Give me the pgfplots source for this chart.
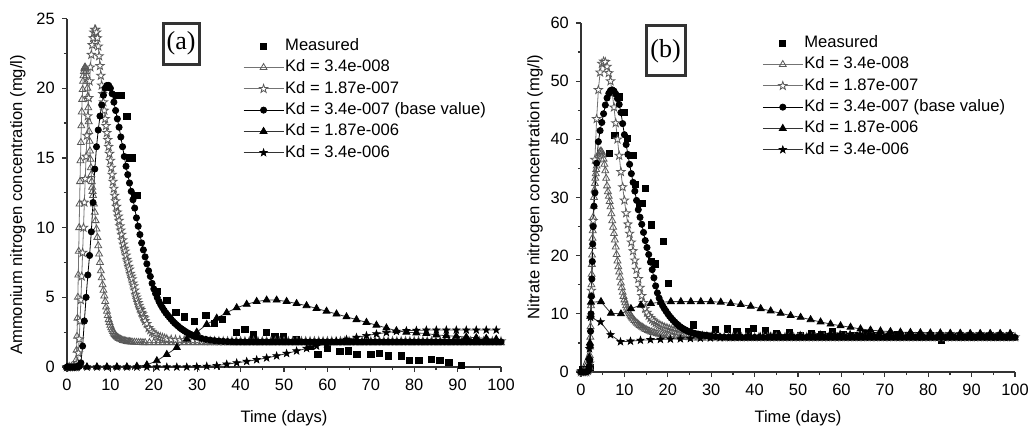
\documentclass[border=0pt]{standalone}
\usepackage{pgfplots}
\pgfplotsset{compat=1.18}
\usepackage{fontspec}
\setmainfont{Liberation Sans}
\newfontfamily\seriffont{Liberation Serif}
\usetikzlibrary{plotmarks}

% five-pointed star outline, filled with the current fill colour
\pgfdeclareplotmark{fivestar}{%
  \pgfpathmoveto{\pgfpointpolar{90}{1.15\pgfplotmarksize}}%
  \pgfpathlineto{\pgfpointpolar{126}{0.46\pgfplotmarksize}}%
  \pgfpathlineto{\pgfpointpolar{162}{1.15\pgfplotmarksize}}%
  \pgfpathlineto{\pgfpointpolar{198}{0.46\pgfplotmarksize}}%
  \pgfpathlineto{\pgfpointpolar{234}{1.15\pgfplotmarksize}}%
  \pgfpathlineto{\pgfpointpolar{270}{0.46\pgfplotmarksize}}%
  \pgfpathlineto{\pgfpointpolar{306}{1.15\pgfplotmarksize}}%
  \pgfpathlineto{\pgfpointpolar{342}{0.46\pgfplotmarksize}}%
  \pgfpathlineto{\pgfpointpolar{18}{1.15\pgfplotmarksize}}%
  \pgfpathlineto{\pgfpointpolar{54}{0.46\pgfplotmarksize}}%
  \pgfpathclose
  \pgfusepathqfillstroke
}

\pgfplotsset{
  kdaxis/.style={
    scale only axis, width=217pt,
    axis lines*=left,
    axis line style={black!80, line width=0.6pt},
    tick style={black!80, line width=0.6pt},
    tick align=outside,
    major tick length=2.6pt, minor tick length=1.6pt,
    xmin=0, xmax=100, xtick={0,10,...,100}, minor x tick num=1,
    clip=false,
    /pgf/number format/assume math mode=true,
    tick label style={font=\fontsize{8.2}{9.8}\selectfont},
    label style={font=\fontsize{8.3}{10}\selectfont},
    xlabel={Time (days)},
    legend cell align=left,
    legend image code/.code={\draw[mark repeat=2,mark phase=2,##1] plot coordinates {(0pt,0pt) (10pt,0pt) (20pt,0pt)};},
    legend style={draw=none, fill=none, inner sep=0pt, row sep=1.45pt,
      font=\fontsize{8.3}{10}\selectfont,
      nodes={inner sep=0.6pt, text height=6.2pt, text depth=1.8pt}},
  },
  meas/.style={only marks, mark=square*, mark size=1.55pt, black},
  kdA/.style={black!55, line width=0.4pt, mark=triangle, mark size=2.0pt,
    mark options={draw=black!65, fill=white, line width=0.4pt}},
  kdB/.style={black!55, line width=0.4pt, mark=fivestar, mark size=1.9pt,
    mark options={draw=black!65, fill=white, line width=0.4pt}},
  kdC/.style={black, line width=0.4pt, mark=*, mark size=1.55pt,
    mark options={fill=black}},
  kdD/.style={black!80, line width=0.4pt, mark=triangle*, mark size=2.0pt,
    mark options={draw=black, fill=black}},
  kdE/.style={black!80, line width=0.4pt, mark=fivestar, mark size=1.7pt,
    mark options={draw=black, fill=black, line width=0.3pt}},
}

\begin{document}
\begin{tikzpicture}
\useasboundingbox (0,0) rectangle (518pt,214pt);

% ---------------- (a) ammonium nitrogen ----------------
\begin{axis}[kdaxis,
  at={(33.5pt,30.5pt)}, anchor=south west, height=174.25pt,
  ymin=0, ymax=25, ytick={0,5,...,25}, minor y tick num=1,
  ylabel={Ammonium nitrogen concentration (mg/l)},
  ylabel style={at={(axis description cs:-0.113,0.465)}, anchor=center},
  xlabel style={at={(axis description cs:0.5,-0.146)}, anchor=center},
  legend style={at={(axis description cs:0.405,0.948)}, anchor=north west},
]
\addplot[meas] coordinates {
 (0.3,0) (1.3,0) (2.3,0.1)
 (11.5,19.5) (12.4,19.5) (13.8,18.0) (14.4,15.0) (15.1,15.0) (15.6,12.3) (16.2,12.3)
 (20.7,5.4) (23.0,4.8) (25.1,3.9) (27.1,3.6) (29.4,3.3) (32.0,3.7) (34.0,3.1) (35.8,3.4)
 (39.1,2.5) (41.0,2.7) (42.9,2.3) (46.0,2.5) (47.9,2.2) (49.8,2.2) (52.9,2.0) (56.0,1.45)
 (57.8,0.9) (60.0,1.35) (62.9,1.1) (64.8,1.15) (66.8,0.9) (70.0,0.9) (71.9,1.0) (74.0,0.8)
 (77.0,0.8) (78.9,0.45) (81.1,0.45) (83.9,0.55) (85.9,0.45) (88.0,0.35) (90.9,0.1)
};
\addlegendentry{Measured}

\addplot[kdA] coordinates {
 (0,0) (0.5,0) (1,0) (1.5,0) (2.0,0.1)
 (2.1,0.5) (2.2,1.2) (2.3,2.2) (2.4,3.5) (2.5,5.0) (2.6,6.6) (2.7,8.3) (2.8,10.0)
 (2.9,11.7) (3.0,13.3) (3.1,14.8) (3.2,16.1) (3.3,17.3) (3.4,18.3) (3.5,19.2) (3.6,19.9)
 (3.7,20.5) (3.8,20.9) (3.9,21.2) (4.0,21.4) (4.1,21.5) (4.2,21.5) (4.3,21.4) (4.4,21.2)
 (4.5,20.9) (4.6,20.5) (4.7,20.0) (4.8,19.4) (4.9,18.6) (5.0,17.6) (5.1,16.9) (5.2,16.2)
 (5.3,15.5) (5.4,14.9) (5.5,14.3) (5.6,13.8) (5.7,13.3) (5.8,12.9) (5.9,12.6) (6.0,12.3)
 (6.2,11.7) (6.4,11.1) (6.6,10.5) (6.8,9.9) (7.0,9.3) (7.2,8.7) (7.4,8.1) (7.6,7.5)
 (7.8,6.9) (8.0,6.4) (8.2,5.9) (8.4,5.5) (8.6,5.1) (8.8,4.7) (9.0,4.3) (9.2,4.0)
 (9.4,3.7) (9.6,3.4) (9.8,3.2) (10.0,3.0) (10.2,2.82) (10.4,2.67) (10.6,2.54) (10.8,2.43)
 (11.0,2.34) (11.2,2.26) (11.4,2.19) (11.6,2.13) (11.8,2.08) (12.0,2.04) (12.3,1.99)
 (12.6,1.95) (12.9,1.91) (13.2,1.88) (13.5,1.86) (13.8,1.84) (14.1,1.82) (14.4,1.81)
 (14.7,1.8) (15.0,1.79) (15.5,1.78) (16.0,1.77) (16.5,1.76) (17.0,1.76) (17.5,1.75)
 (18.0,1.75) (19,1.75) (20,1.75)
 (21,1.75) (22,1.75) (23,1.75) (24,1.75) (25,1.75) (26,1.75) (27,1.75) (28,1.75) (29,1.75) (30,1.75)
 (31,1.75) (32,1.75) (33,1.75) (34,1.75) (35,1.75) (36,1.75) (37,1.75) (38,1.75) (39,1.75) (40,1.75)
 (41,1.75) (42,1.75) (43,1.75) (44,1.75) (45,1.75) (46,1.75) (47,1.75) (48,1.75) (49,1.75) (50,1.75)
 (51,1.75) (52,1.75) (53,1.75) (54,1.75) (55,1.75) (56,1.75) (57,1.75) (58,1.75) (59,1.75) (60,1.75)
 (61,1.75) (62,1.75) (63,1.75) (64,1.75) (65,1.75) (66,1.75) (67,1.75) (68,1.75) (69,1.75) (70,1.75)
 (71,1.75) (72,1.75) (73,1.75) (74,1.75) (75,1.75) (76,1.75) (77,1.75) (78,1.75) (79,1.75) (80,1.75)
 (81,1.75) (82,1.75) (83,1.75) (84,1.75) (85,1.75) (86,1.75) (87,1.75) (88,1.75) (89,1.75) (90,1.75)
 (91,1.75) (92,1.75) (93,1.75) (94,1.75) (95,1.75) (96,1.75) (97,1.75) (98,1.75) (99,1.75) (100,1.75)
};
\addlegendentry{Kd = 3.4e-008}

\addplot[kdB] coordinates {
 (0,0) (0.5,0) (1,0) (1.5,0) (2,0)
 (2.4,0.3) (2.6,1.0) (2.8,2.0) (3.0,3.3) (3.2,4.8) (3.4,6.5) (3.6,8.2) (3.8,10.0)
 (4.0,11.8) (4.2,13.5) (4.4,15.1) (4.6,16.6) (4.8,18.0) (5.0,19.3) (5.2,20.5) (5.4,21.5)
 (5.6,22.4) (5.8,23.1) (6.0,23.6) (6.2,24.0) (6.4,24.2) (6.6,24.2) (6.8,24.0) (7.0,23.6)
 (7.2,23.0) (7.4,22.3) (7.6,21.6) (7.8,20.9) (8.0,20.2) (8.2,19.6) (8.4,19.0) (8.6,18.4)
 (8.8,17.8) (9.0,17.3) (9.2,16.8) (9.4,16.3) (9.6,15.8) (9.8,15.3) (10.0,14.8) (10.2,14.3)
 (10.4,13.8) (10.6,13.3) (10.8,12.8) (11.0,12.3) (11.2,11.9) (11.4,11.5) (11.6,11.1) (11.8,10.8)
 (12.0,10.5) (12.2,10.1) (12.4,9.8) (12.6,9.5) (12.8,9.1) (13.0,8.8) (13.2,8.5) (13.4,8.3)
 (13.6,8.0) (13.8,7.7) (14.0,7.5) (14.2,7.2) (14.4,7.0) (14.6,6.7) (14.8,6.5) (15.0,6.3)
 (15.2,6.0) (15.4,5.8) (15.6,5.5) (15.8,5.2) (16.0,5.0) (16.2,4.8) (16.4,4.6) (16.6,4.4)
 (16.8,4.2) (17.0,4.1) (17.2,3.9) (17.4,3.8) (17.6,3.6) (17.8,3.5) (18.0,3.3) (18.4,3.1)
 (18.8,2.8) (19.2,2.65) (19.6,2.5) (20.0,2.4) (20.5,2.3) (21.0,2.2) (21.5,2.15) (22.0,2.1)
 (22.5,2.05) (23.0,2.0) (24,1.97) (25,1.95) (26,1.93) (27,1.92) (28,1.91) (29,1.9) (30,1.9)
 (31,1.88) (32,1.87) (33,1.86) (34,1.86) (35,1.85) (36,1.85) (37,1.85) (38,1.85) (39,1.85) (40,1.85)
 (41,1.85) (42,1.85) (43,1.85) (44,1.85) (45,1.85) (46,1.85) (47,1.85) (48,1.85) (49,1.85) (50,1.85)
 (51,1.85) (52,1.85) (53,1.85) (54,1.85) (55,1.85) (56,1.85) (57,1.85) (58,1.85) (59,1.85) (60,1.85)
 (61,1.85) (62,1.85) (63,1.85) (64,1.85) (65,1.85) (66,1.85) (67,1.85) (68,1.85) (69,1.85) (70,1.85)
 (71,1.85) (72,1.85) (73,1.85) (74,1.85) (75,1.85) (76,1.85) (77,1.85) (78,1.85) (79,1.85) (80,1.85)
 (81,1.85) (82,1.85) (83,1.85) (84,1.85) (85,1.85) (86,1.85) (87,1.85) (88,1.85) (89,1.85) (90,1.85)
 (91,1.85) (92,1.85) (93,1.85) (94,1.85) (95,1.85) (96,1.85) (97,1.85) (98,1.85) (99,1.85) (100,1.85)
};
\addlegendentry{Kd = 1.87e-007}

\addplot[kdC] coordinates {
 (0,0) (0.4,0) (0.8,0) (1.2,0) (1.6,0) (2.0,0) (2.4,0) (2.8,0.05)
 (3.2,0.3) (3.6,1.5) (4.0,3.3) (4.4,5.0) (4.8,6.6) (5.2,8.0) (5.6,9.7) (6.0,11.8)
 (6.4,14.2) (6.8,15.8) (7.2,17.0) (7.6,18.0) (8.0,18.8) (8.4,19.5) (8.8,20.0) (9.2,20.2)
 (9.6,20.2) (10.0,20.0) (10.4,19.6) (10.8,19.0) (11.2,18.4) (11.6,17.8) (12.0,17.2) (12.4,16.5)
 (12.8,15.8) (13.2,15.1) (13.6,14.4) (14.0,13.8) (14.4,13.2) (14.8,12.6) (15.2,12.0) (15.6,11.4)
 (16.0,10.7) (16.4,10.1) (16.8,9.5) (17.2,8.9) (17.6,8.4) (18.0,7.9) (18.4,7.4) (18.8,6.9)
 (19.2,6.5) (19.6,6.0) (20.0,5.6) (20.4,5.27) (20.8,4.97) (21.2,4.7) (21.6,4.46) (22.0,4.25)
 (22.4,4.05) (22.8,3.87) (23.2,3.72) (23.6,3.57) (24.0,3.42) (24.4,3.28) (24.8,3.15) (25.2,3.04)
 (25.6,2.93) (26.0,2.82) (26.4,2.73) (26.8,2.64) (27.2,2.56) (27.6,2.48) (28.0,2.41) (28.4,2.35)
 (28.8,2.29) (29.2,2.24) (29.6,2.19) (30.0,2.15) (31,2.05) (32,1.98)
 (33,1.93) (34,1.89) (35,1.86) (36,1.84) (37,1.82) (38,1.81) (39,1.8) (40,1.8)
 (41,1.8) (42,1.8) (43,1.8) (44,1.8) (45,1.8) (46,1.8) (47,1.8) (48,1.8) (49,1.8) (50,1.8)
 (51,1.8) (52,1.8) (53,1.8) (54,1.8) (55,1.8) (56,1.8) (57,1.8) (58,1.8) (59,1.8) (60,1.8)
 (61,1.8) (62,1.8) (63,1.8) (64,1.8) (65,1.8) (66,1.8) (67,1.8) (68,1.8) (69,1.8) (70,1.8)
 (71,1.8) (72,1.8) (73,1.8) (74,1.8) (75,1.8) (76,1.8) (77,1.8) (78,1.8) (79,1.8) (80,1.8)
 (81,1.8) (82,1.8) (83,1.8) (84,1.8) (85,1.8) (86,1.8) (87,1.8) (88,1.8) (89,1.8) (90,1.8)
 (91,1.8) (92,1.8) (93,1.8) (94,1.8) (95,1.8) (96,1.8) (97,1.8) (98,1.8) (99,1.8) (100,1.8)
};
\addlegendentry{Kd = 3.4e-007 (base value)}

\addplot[kdD] coordinates {
 (0,0) (2.3,0) (4.6,0) (6.9,0) (9.2,0) (11.5,0) (13.8,0) (16.1,0.05) (18.4,0.15)
 (20.7,0.45) (23.0,0.9) (25.3,1.4) (27.6,2.0) (29.9,2.5) (32.2,3.05) (34.5,3.5) (36.8,3.9)
 (39.1,4.25) (41.4,4.5) (43.7,4.7) (46.0,4.8) (48.3,4.8) (50.6,4.7) (52.9,4.55) (55.2,4.4)
 (57.5,4.2) (59.8,4.0) (62.1,3.8) (64.4,3.6) (66.7,3.4) (69.0,3.2) (71.3,3.0) (73.6,2.8)
 (75.9,2.6) (78.2,2.5) (80.5,2.45) (82.8,2.4) (85.1,2.3) (87.4,2.25) (89.7,2.2) (92.0,2.15)
 (94.3,2.1) (96.6,2.05) (98.9,2.0)
};
\addlegendentry{Kd = 1.87e-006}

\addplot[kdE] coordinates {
 (0,0) (2.3,0) (4.6,0) (6.9,0) (9.2,0) (11.5,0) (13.8,0) (16.1,0) (18.4,0) (20.7,0)
 (23.0,0) (25.3,0) (27.6,0) (29.9,0.02) (32.2,0.05) (34.5,0.1) (36.8,0.2) (39.1,0.3)
 (41.4,0.4) (43.7,0.52) (46.0,0.65) (48.3,0.8) (50.6,0.97) (52.9,1.15) (55.2,1.33) (57.5,1.5)
 (59.8,1.67) (62.1,1.83) (64.4,1.98) (66.7,2.12) (69.0,2.25) (71.3,2.37) (73.6,2.47) (75.9,2.55)
 (78.2,2.6) (80.5,2.63) (82.8,2.65) (85.1,2.65) (87.4,2.65) (89.7,2.65) (92.0,2.65) (94.3,2.65)
 (96.6,2.65) (98.9,2.65)
};
\addlegendentry{Kd = 3.4e-006}

\node[draw=black!80, line width=1.5pt, minimum width=18pt, minimum height=20.5pt,
  inner sep=0pt, font=\seriffont\fontsize{13}{13}\selectfont]
  at (axis description cs:0.263,0.928) {(a)};
\end{axis}

% ---------------- (b) nitrate nitrogen ----------------
\begin{axis}[kdaxis,
  at={(290.5pt,28pt)}, anchor=south west, height=174.5pt,
  ymin=0, ymax=60, ytick={0,10,...,60}, minor y tick num=1,
  ylabel={Nitrate nitrogen concentration (mg/l)},
  ylabel style={at={(axis description cs:-0.106,0.53)}, anchor=center},
  xlabel style={at={(axis description cs:0.5,-0.132)}, anchor=center},
  legend style={at={(axis description cs:0.417,0.9695)}, anchor=north west},
]
\addplot[meas] coordinates {
 (0.3,0.5) (1.3,0.5) (2.2,0.8)
 (6.5,37.6) (7.8,40.7) (8.9,47.3) (9.9,44.6) (10.6,40.1) (11.3,37.2) (12.0,37.2)
 (12.6,32.3) (13.4,29.0) (14.1,29.0) (14.9,31.5) (16.3,25.3) (16.3,19.0) (17.1,18.6)
 (19.0,22.4) (20.1,15.3) (25.9,8.1) (31.0,7.3) (33.7,7.4) (35.9,7.0) (38.5,6.9)
 (39.7,7.5) (42.4,7.2) (45.0,6.6) (48.0,6.8) (50.5,6.3) (53.0,6.6) (55.5,6.4)
 (58.0,6.9) (60.5,6.5) (63.0,6.2) (65.5,6.6) (68.0,6.3) (70.5,6.1) (73.0,6.4)
 (75.5,6.2) (78.0,6.0) (80.5,6.3) (83.0,5.4) (85.5,6.1) (88.0,6.0) (90.5,5.9)
 (93.0,6.1) (95.5,5.9) (98.0,6.0)
};
\addlegendentry{Measured}

\addplot[kdA] coordinates {
 (0,0) (0.5,0) (1,0) (1.5,0.1) (1.8,0.3) (1.95,0.8)
 (2.0,1.5) (2.05,2.8) (2.1,4.3) (2.15,6.0) (2.2,7.8) (2.25,9.6) (2.3,11.4) (2.35,13.2)
 (2.4,15.0) (2.45,16.8) (2.5,18.5) (2.55,20.1) (2.6,21.6) (2.65,23.0) (2.7,24.3) (2.75,25.5)
 (2.8,26.6) (2.9,28.5) (3.0,30.0) (3.1,31.3) (3.2,32.4) (3.3,33.3) (3.4,34.1) (3.5,34.8)
 (3.6,35.4) (3.8,36.4) (4.0,37.1) (4.2,37.6) (4.4,37.9) (4.6,38.0) (4.8,37.8) (5.0,37.3)
 (5.2,36.6) (5.4,35.7) (5.6,34.6) (5.8,33.3) (6.0,32.0) (6.2,31.0) (6.4,30.2) (6.6,29.3)
 (6.8,28.4) (7.0,27.2) (7.2,26.0) (7.4,24.9) (7.6,23.8) (7.8,22.7) (8.0,21.5) (8.2,20.2)
 (8.4,19.1) (8.6,18.1) (8.8,17.2) (9.0,16.3) (9.2,15.3) (9.4,14.5) (9.6,13.7) (9.8,13.0)
 (10.0,12.4) (10.2,11.9) (10.4,11.4) (10.6,11.0) (10.8,10.6) (11.0,10.3) (11.2,10.0)
 (11.4,9.75) (11.6,9.5) (11.8,9.3) (12.0,9.1) (12.3,8.85) (12.6,8.6) (12.9,8.4) (13.2,8.2)
 (13.5,8.0) (13.8,7.85) (14.1,7.7) (14.4,7.55) (14.7,7.4) (15.0,7.3) (15.4,7.15) (15.8,7.0)
 (16.2,6.9) (16.6,6.8) (17.0,6.7) (17.5,6.6) (18.0,6.5) (18.5,6.4) (19.0,6.3) (19.5,6.25)
 (20.0,6.2) (21,6.1) (22,6.05) (23,6.0) (24,5.95) (25,5.9)
 (26,5.85) (27,5.85) (28,5.85) (29,5.85) (30,5.85) (31,5.85) (32,5.85) (33,5.85) (34,5.85) (35,5.85)
 (36,5.85) (37,5.85) (38,5.85) (39,5.85) (40,5.85) (41,5.85) (42,5.85) (43,5.85) (44,5.85) (45,5.85)
 (46,5.85) (47,5.85) (48,5.85) (49,5.85) (50,5.85) (51,5.85) (52,5.85) (53,5.85) (54,5.85) (55,5.85)
 (56,5.85) (57,5.85) (58,5.85) (59,5.85) (60,5.85) (61,5.85) (62,5.85) (63,5.85) (64,5.85) (65,5.85)
 (66,5.85) (67,5.85) (68,5.85) (69,5.85) (70,5.85) (71,5.85) (72,5.85) (73,5.85) (74,5.85) (75,5.85)
 (76,5.85) (77,5.85) (78,5.85) (79,5.85) (80,5.85) (81,5.85) (82,5.85) (83,5.85) (84,5.85) (85,5.85)
 (86,5.85) (87,5.85) (88,5.85) (89,5.85) (90,5.85) (91,5.85) (92,5.85) (93,5.85) (94,5.85) (95,5.85)
 (96,5.85) (97,5.85) (98,5.85) (99,5.85) (100,5.85)
};
\addlegendentry{Kd = 3.4e-008}

\addplot[kdB] coordinates {
 (0,0) (0.4,0) (0.8,0) (1.2,0) (1.6,0.2) (2.0,1.5) (2.4,14.0) (2.8,26.0) (3.2,36.5)
 (3.6,43.5) (4.0,48.5) (4.4,51.5) (4.8,53.0) (5.2,53.4) (5.6,53.3) (6.0,52.5) (6.4,51.4)
 (6.8,50.0) (7.2,47.9) (7.6,45.5) (8.0,42.8) (8.4,40.0) (8.8,37.2) (9.2,34.4) (9.6,31.8)
 (10.0,29.5) (10.4,27.3) (10.8,25.4) (11.2,23.8) (11.6,22.3) (12.0,20.8) (12.4,19.2)
 (12.8,17.6) (13.2,16.0) (13.6,14.5) (14.0,13.1) (14.4,11.9) (14.8,10.9) (15.2,10.2)
 (15.6,9.7) (16.0,9.3) (16.4,9.0) (16.8,8.7) (17.2,8.45) (17.6,8.25) (18.0,8.1) (18.4,7.95)
 (18.8,7.8) (19.2,7.65) (19.6,7.55) (20.0,7.45) (20.4,7.35) (20.8,7.25) (21.2,7.15)
 (21.6,7.05) (22.0,6.95) (22.4,6.9) (22.8,6.8) (23.2,6.75) (23.6,6.65) (24.0,6.6)
 (24.4,6.55) (24.8,6.5) (25.2,6.45) (25.6,6.4) (26,6.35) (27,6.25) (28,6.2) (29,6.15) (30,6.1)
 (31,6.05) (32,6.0) (33,6.0) (34,6.0) (35,6.0) (36,6.0) (37,6.0) (38,6.0) (39,6.0) (40,6.0)
 (41,6.0) (42,6.0) (43,6.0) (44,6.0) (45,6.0) (46,6.0) (47,6.0) (48,6.0) (49,6.0) (50,6.0)
 (51,6.0) (52,6.0) (53,6.0) (54,6.0) (55,6.0) (56,6.0) (57,6.0) (58,6.0) (59,6.0) (60,6.0)
 (61,6.0) (62,6.0) (63,6.0) (64,6.0) (65,6.0) (66,6.0) (67,6.0) (68,6.0) (69,6.0) (70,6.0)
 (71,6.0) (72,6.0) (73,6.0) (74,6.0) (75,6.0) (76,6.0) (77,6.0) (78,6.0) (79,6.0) (80,6.0)
 (81,6.0) (82,6.0) (83,6.0) (84,6.0) (85,6.0) (86,6.0) (87,6.0) (88,6.0) (89,6.0) (90,6.0)
 (91,6.0) (92,6.0) (93,6.0) (94,6.0) (95,6.0) (96,6.0) (97,6.0) (98,6.0) (99,6.0) (100,6.0)
};
\addlegendentry{Kd = 1.87e-007}

\addplot[kdC] coordinates {
 (0,0) (0.5,0) (1,0) (1.5,0.1) (1.8,0.4) (1.9,1.0) (2.0,2.0) (2.1,4.5) (2.2,7.0)
 (2.3,10.0) (2.4,13.0) (2.5,16.0) (2.6,19.0) (2.7,22.0) (2.8,25.0) (3.0,28.5) (3.2,30.8)
 (3.6,35.9) (4.0,39.6) (4.4,41.5) (4.8,42.9) (5.2,44.4) (5.6,45.9) (6.0,47.1) (6.4,47.9)
 (6.8,48.4) (7.2,48.5) (7.6,48.3) (8.0,47.8) (8.4,47.0) (8.8,46.0) (9.2,44.6) (9.6,42.7)
 (10.0,40.8) (10.4,39.1) (10.8,37.4) (11.2,35.7) (11.6,34.1) (12.0,32.6) (12.4,31.1)
 (12.8,29.5) (13.2,27.9) (13.6,26.6) (14.0,25.4) (14.4,24.0) (14.8,22.6) (15.2,21.4)
 (15.6,20.2) (16.0,18.9) (16.4,17.6) (16.8,16.2) (17.2,14.8) (17.6,13.6) (18.0,12.7)
 (18.4,12.0) (18.8,11.4) (19.2,10.9) (19.6,10.45) (20.0,10.0) (20.4,9.6) (20.8,9.25)
 (21.2,8.9) (21.6,8.6) (22.0,8.3) (22.4,8.05) (22.8,7.8) (23.2,7.6) (23.6,7.4) (24.0,7.25)
 (24.4,7.1) (24.8,6.95) (25.2,6.85) (25.6,6.75) (26.0,6.65) (26.4,6.58) (26.8,6.5)
 (27.2,6.45) (27.6,6.4) (28.0,6.36) (28.4,6.32) (28.8,6.28) (29.2,6.24) (29.6,6.2)
 (30,6.17) (31,6.1) (32,6.05) (33,6.0) (34,5.97) (35,5.95) (36,5.95) (37,5.95) (38,5.95)
 (39,5.95) (40,5.95) (41,5.95) (42,5.95) (43,5.95) (44,5.95) (45,5.95) (46,5.95) (47,5.95)
 (48,5.95) (49,5.95) (50,5.95) (51,5.95) (52,5.95) (53,5.95) (54,5.95) (55,5.95) (56,5.95)
 (57,5.95) (58,5.95) (59,5.95) (60,5.95) (61,5.95) (62,5.95) (63,5.95) (64,5.95) (65,5.95)
 (66,5.95) (67,5.95) (68,5.95) (69,5.95) (70,5.95) (71,5.95) (72,5.95) (73,5.95) (74,5.95)
 (75,5.95) (76,5.95) (77,5.95) (78,5.95) (79,5.95) (80,5.95) (81,5.95) (82,5.95) (83,5.95)
 (84,5.95) (85,5.95) (86,5.95) (87,5.95) (88,5.95) (89,5.95) (90,5.95) (91,5.95) (92,5.95)
 (93,5.95) (94,5.95) (95,5.95) (96,5.95) (97,5.95) (98,5.95) (99,5.95) (100,5.95)
};
\addlegendentry{Kd = 3.4e-007 (base value)}

\addplot[kdD] coordinates {
 (0,0.2) (1.9,2.5) (2.05,5.0) (2.15,9.6) (2.3,12.0) (4.6,12.1) (6.9,10.1) (9.2,10.0)
 (11.5,10.9) (13.8,11.5) (16.1,11.8) (18.4,12.0) (20.7,12.1) (23.0,12.1) (25.3,12.1)
 (27.6,12.1) (29.9,12.1) (32.2,12.0) (34.5,11.8) (36.8,11.6) (39.1,11.3) (41.4,10.9)
 (43.7,10.5) (46.0,10.1) (48.3,9.7) (50.6,9.4) (52.9,9.0) (55.2,8.6) (57.5,8.25)
 (59.8,7.95) (62.1,7.7) (64.4,7.4) (66.7,7.2) (69.0,7.05) (71.3,6.95) (73.6,6.85)
 (75.9,6.8) (78.2,6.75) (80.5,6.7) (82.8,6.7) (85.1,6.65) (87.4,6.65) (89.7,6.6)
 (92.0,6.6) (94.3,6.6) (96.6,6.6) (98.9,6.6)
};
\addlegendentry{Kd = 1.87e-006}

\addplot[kdE] coordinates {
 (0,0.2) (1.95,4.0) (2.2,9.4) (4.5,8.6) (6.8,6.4) (9.1,5.2) (11.4,5.3) (13.7,5.45)
 (16.0,5.55) (18.3,5.6) (20.6,5.65) (22.9,5.7) (25.2,5.75) (27.5,5.8) (29.8,5.85)
 (32.1,5.9) (34.4,5.95) (36.7,6.0) (39.0,6.05) (41.3,6.1) (43.6,6.15) (45.9,6.2)
 (48.2,6.25) (50.5,6.3) (52.8,6.35) (55.1,6.4) (57.4,6.45) (59.7,6.5) (62.0,6.5)
 (64.3,6.5) (66.6,6.52) (68.9,6.52) (71.2,6.53) (73.5,6.53) (75.8,6.54) (78.1,6.54)
 (80.4,6.55) (82.7,6.55) (85.0,6.55) (87.3,6.55) (89.6,6.55) (91.9,6.55) (94.2,6.55)
 (96.5,6.55) (98.8,6.55)
};
\addlegendentry{Kd = 3.4e-006}

\node[draw=black!80, line width=1.5pt, minimum width=19.5pt, minimum height=25pt,
  inner sep=0pt, font=\seriffont\fontsize{13}{13}\selectfont]
  at (axis description cs:0.195,0.92) {(b)};
\end{axis}
\end{tikzpicture}
\end{document}
